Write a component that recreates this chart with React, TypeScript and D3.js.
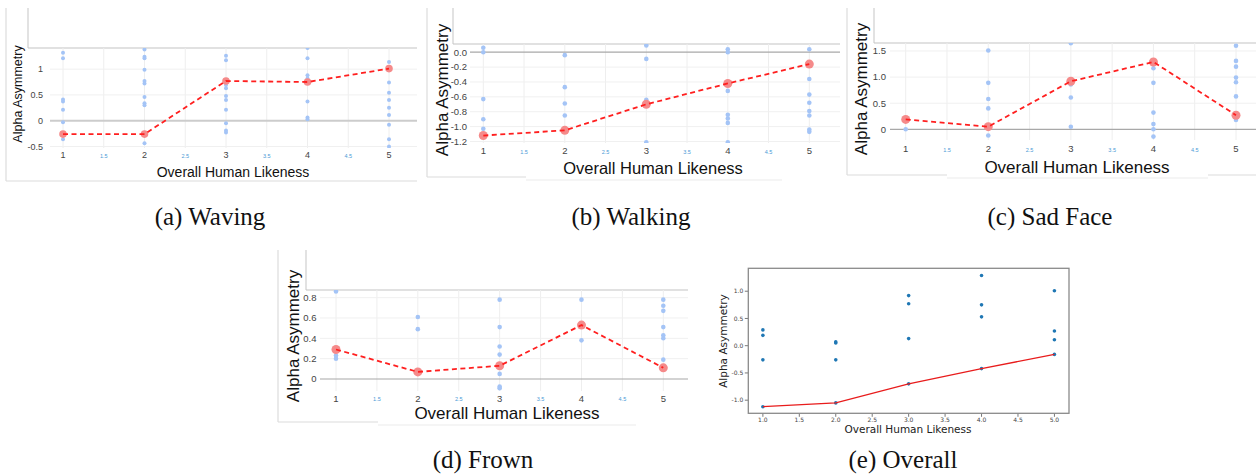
import * as d3 from 'd3';
import React from 'react';

// x categories: overall human likeness rating
const likeness = [1, 2, 3, 4, 5];
const majorLabels = ['1', '2', '3', '4', '5'];
const halfSteps = [1.5, 2.5, 3.5, 4.5];
const halfLabels = ['1.5', '2.5', '3.5', '4.5'];

// (a) waving
const wavingPoints = [
  [1.32, 1.21, 0.41, 0.37, 0.21, -0.03, -0.36],
  [1.38, 1.24, 1.21, 0.99, 0.77, 0.72, 0.46, 0.34, 0.3, -0.44],
  [1.26, 1.17, 0.77, 0.69, 0.63, 0.48, 0.4, 0.21, -0.05, -0.19, -0.23],
  [1.41, 1.21, 0.88, 0.82, 0.37, 0.06, 0.03],
  [1.14, 0.74, 0.54, 0.4, 0.25, 0.11, -0.08, -0.36, -0.5],
];
const wavingMeans = [-0.26, -0.26, 0.77, 0.75, 1.01];
const wavingTicks = [-0.5, 0, 0.5, 1];
const wavingTickLabels = ['-0.5', '0', '0.5', '1'];

// (b) walking
const walkingPoints = [
  [0.06, 0.0, -0.63, -0.9, -1.03],
  [-0.04, -0.47, -0.69, -0.85],
  [0.09, -0.09, -0.64, -1.21],
  [0.04, 0.0, -0.52, -0.84, -0.89, -0.95, -1.21],
  [0.04, -0.36, -0.57, -0.68, -0.79, -0.85, -1.04, -1.07],
];
const walkingMeans = [-1.12, -1.05, -0.7, -0.42, -0.16];
const walkingTicks = [0, -0.2, -0.4, -0.6, -0.8, -1.0, -1.2];
const walkingTickLabels = ['0.0', '-0.2', '-0.4', '-0.6', '-0.8', '-1.0', '-1.2'];

// (c) sad face
const sadPoints = [
  [0.0],
  [1.51, 0.89, 0.58, 0.4, -0.12],
  [1.65, 0.86, 0.61, 0.05],
  [1.17, 0.89, 0.32, 0.1, 0.0, -0.14],
  [1.6, 1.31, 1.2, 0.99, 0.9, 0.63, 0.18],
];
const sadMeans = [0.19, 0.05, 0.92, 1.29, 0.27];
const sadTicks = [0, 0.5, 1, 1.5];
const sadTickLabels = ['0', '0.5', '1.0', '1.5'];

// (d) frown
const frownPoints = [
  [0.86, 0.23, 0.2],
  [0.61, 0.49],
  [0.78, 0.51, 0.32, 0.24, 0.05, -0.075, -0.09],
  [0.78, 0.38],
  [0.78, 0.72, 0.67, 0.51, 0.43, 0.4, 0.19],
];
const frownMeans = [0.29, 0.07, 0.13, 0.53, 0.11];
const frownTicks = [0, 0.2, 0.4, 0.6, 0.8];
const frownTickLabels = ['0', '0.2', '0.4', '0.6', '0.8'];

// (e) overall
const overallXTicks = [1, 1.5, 2, 2.5, 3, 3.5, 4, 4.5, 5];
const overallYTicks = [-1, -0.5, 0, 0.5, 1];

const SANS = 'Liberation Sans, Arial, sans-serif';
const SERIF = 'Liberation Serif, Times New Roman, serif';

function WebPanel({ id, cfg, points, means, ticks, tickLabels }) {
  const x = d3.scaleLinear().domain([1, 5]).range(cfg.xr);
  const y = d3.scaleLinear().domain(cfg.yDomain).range([cfg.plotBottom, cfg.plotTop]);
  const line = d3.line<number>()
    .x((d, i) => x(likeness[i]))
    .y(d => y(d));
  const grid = d3.range(1, 5.01, 0.5);
  const frameCol = '#dcdcdc';

  return (
    <g>
      <defs>
        <clipPath id={id}>
          <rect x={cfg.plotLeft} y={cfg.plotTop} width={cfg.plotRight - cfg.plotLeft} height={cfg.plotBottom - cfg.plotTop} />
        </clipPath>
      </defs>
      {/* outer frame */}
      <line x1={cfg.frameLeft} x2={cfg.frameLeft} y1={cfg.frameTop} y2={cfg.frameBottom} stroke={frameCol} strokeWidth={1.2} />
      {cfg.titleBox ? (
        <g>
          <line x1={cfg.frameLeft} x2={cfg.titleBox[0]} y1={cfg.frameBottom} y2={cfg.frameBottom} stroke={frameCol} strokeWidth={1.2} />
          <line x1={cfg.titleBox[0]} x2={cfg.titleBox[1]} y1={cfg.frameBottom + 3} y2={cfg.frameBottom + 3} stroke="#ececec" strokeWidth={1.2} />
          {cfg.frameTail && (
            <line x1={cfg.titleBox[1]} x2={cfg.plotRight} y1={cfg.frameBottom} y2={cfg.frameBottom} stroke={frameCol} strokeWidth={1.2} />
          )}
        </g>
      ) : (
        <line x1={cfg.frameLeft} x2={cfg.plotRight} y1={cfg.frameBottom} y2={cfg.frameBottom} stroke={frameCol} strokeWidth={1.2} />
      )}
      {/* upper box */}
      <line x1={cfg.boxLeft} x2={cfg.boxLeft} y1={cfg.frameTop} y2={cfg.plotTop} stroke="#cfcfcf" strokeWidth={1.2} />
      <line x1={cfg.boxLeft} x2={cfg.plotRight} y1={cfg.plotTop} y2={cfg.plotTop} stroke="#c4c4c4" strokeWidth={1.2} />

      {/* grid */}
      {grid.map(g => (
        <line key={'v' + g} x1={x(g)} x2={x(g)} y1={cfg.plotTop} y2={cfg.plotBottom} stroke="#eeeeee" strokeWidth={1} />
      ))}
      {ticks.filter(t => t !== 0).map(t => (
        <line key={'h' + t} x1={cfg.plotLeft} x2={cfg.plotRight} y1={y(t)} y2={y(t)} stroke="#f0f0f0" strokeWidth={1} />
      ))}
      <line x1={cfg.plotLeft} x2={cfg.plotRight} y1={y(0)} y2={y(0)} stroke={cfg.zeroCol} strokeWidth={cfg.zeroW} />

      {/* tick labels */}
      {ticks.map((t, i) => (
        <text key={'yt' + t} x={cfg.labelX} y={y(t)} dy="0.35em" textAnchor="end" fontFamily={SANS} fontSize={cfg.tickSize} fill="#444">{tickLabels[i]}</text>
      ))}
      {likeness.map((v, i) => (
        <text key={'xt' + v} x={x(v)} y={cfg.xTickY} dy="0.35em" textAnchor="middle" fontFamily={SANS} fontSize={cfg.tickSize} fill="#444">{majorLabels[i]}</text>
      ))}
      {halfSteps.map((v, i) => (
        <text key={'xh' + v} x={x(v)} y={cfg.xTickY + 1} dy="0.35em" textAnchor="middle" fontFamily={SANS} fontSize={cfg.minorSize} fill="#4a9ad6">{halfLabels[i]}</text>
      ))}

      {/* titles */}
      <text x={cfg.xTitle[0]} y={cfg.xTitle[1]} textAnchor="middle" fontFamily={SANS} fontSize={cfg.xTitle[2]} fill="#111">Overall Human Likeness</text>
      <text transform={`translate(${cfg.yTitle[0]},${cfg.yTitle[1]}) rotate(-90)`} dy="0.35em" textAnchor="middle" fontFamily={SANS} fontSize={cfg.yTitle[2]} fill="#111">Alpha Asymmetry</text>

      {/* data */}
      <g clipPath={`url(#${id})`}>
        {points.map((col, i) => col.map((v, j) => (
          <circle key={`p${i}-${j}`} cx={x(likeness[i])} cy={y(v)} r={cfg.dotR} fill="#a4c4f6" />
        )))}
        {means.map((v, i) => (
          <circle key={'m' + i} cx={x(likeness[i])} cy={y(v)} r={cfg.meanR} fill="#f58a8a" />
        ))}
        <path d={line(means) || ''} fill="none" stroke="#ff1f1f" strokeWidth={cfg.lineW} strokeDasharray={cfg.dash} />
      </g>
    </g>
  );
}

const cfgA = {
  frameLeft: 6, frameTop: 8, frameBottom: 181, boxLeft: 28,
  plotLeft: 50, plotRight: 417, plotTop: 48, plotBottom: 148,
  xr: [63, 389], yDomain: [-0.53, 1.41],
  labelX: 43, xTickY: 155, tickSize: 9, minorSize: 5.5,
  xTitle: [233, 177, 14], yTitle: [18, 94, 12.5],
  zeroCol: '#cccccc', zeroW: 2, dotR: 2, meanR: 3.8, lineW: 1.8, dash: '5 3.5',
};
const cfgB = {
  frameLeft: 427, frameTop: 8, frameBottom: 177, boxLeft: 453,
  plotLeft: 470, plotRight: 840, plotTop: 44, plotBottom: 143,
  xr: [483.3, 809.3], yDomain: [-1.22, 0.11],
  labelX: 467, xTickY: 151, tickSize: 9.5, minorSize: 5.5,
  xTitle: [653, 174, 16.5], yTitle: [442, 90, 17],
  zeroCol: '#a8a8a8', zeroW: 1.2, dotR: 2.3, meanR: 4.5, lineW: 1.8, dash: '5 3.5',
  titleBox: [526, 782],
};
const cfgC = {
  frameLeft: 847, frameTop: 8, frameBottom: 175, boxLeft: 874,
  plotLeft: 890, plotRight: 1256, plotTop: 43, plotBottom: 140,
  xr: [905.7, 1236], yDomain: [-0.205, 1.653],
  labelX: 886, xTickY: 149, tickSize: 9.5, minorSize: 5.5,
  xTitle: [1077, 173, 17], yTitle: [861, 89, 17],
  zeroCol: '#a8a8a8', zeroW: 1.2, dotR: 2.3, meanR: 4.5, lineW: 1.8, dash: '5 3.5',
  titleBox: [947, 1208], frameTail: true,
};
const cfgD = {
  frameLeft: 278, frameTop: 250, frameBottom: 422, boxLeft: 306,
  plotLeft: 320, plotRight: 688, plotTop: 290, plotBottom: 391,
  xr: [336, 663.3], yDomain: [-0.118, 0.875],
  labelX: 316.5, xTickY: 398.5, tickSize: 9.5, minorSize: 5.5,
  xTitle: [507, 419, 17], yTitle: [293, 336, 17],
  zeroCol: '#a8a8a8', zeroW: 1.2, dotR: 2.3, meanR: 4.5, lineW: 1.8, dash: '5 3.5',
  titleBox: [378, 636],
};

function OverallPanel() {
  const left = 748.3, right = 1069, top = 268.3, bottom = 413.3;
  const x = d3.scaleLinear().domain([0.8, 5.2]).range([left, right]);
  const y = d3.scaleLinear().domain([-1.241, 1.421]).range([bottom, top]);
  const line = d3.line<number>().x((d, i) => x(likeness[i])).y(d => y(d));
  const allMeans = [wavingMeans, walkingMeans, sadMeans, frownMeans];
  const MPL = 'DejaVu Sans, sans-serif';
  return (
    <g>
      {overallXTicks.map(t => (
        <g key={'x' + t}>
          <line x1={x(t)} x2={x(t)} y1={bottom} y2={bottom + 3.5} stroke="#555" strokeWidth={0.8} />
          <text x={x(t)} y={bottom + 8.5} textAnchor="middle" fontFamily={MPL} fontSize={6} fill="#444">{t.toFixed(1)}</text>
        </g>
      ))}
      {overallYTicks.map(t => (
        <g key={'y' + t}>
          <line x1={left - 3.5} x2={left} y1={y(t)} y2={y(t)} stroke="#555" strokeWidth={0.8} />
          <text x={left - 5} y={y(t)} dy="0.35em" textAnchor="end" fontFamily={MPL} fontSize={6} fill="#444">{t.toFixed(1)}</text>
        </g>
      ))}
      {allMeans.map((series, k) => series.map((v, i) => (
        <circle key={`o${k}-${i}`} cx={x(likeness[i])} cy={y(v)} r={1.8} fill="#1f77b4" />
      )))}
      <path d={line(walkingMeans) || ''} fill="none" stroke="#e81c1c" strokeWidth={1.3} />
      <rect x={left} y={top} width={right - left} height={bottom - top} fill="none" stroke="#8a8a8a" strokeWidth={1.3} />
      <text x={908} y={433} textAnchor="middle" fontFamily={MPL} fontSize={10.5} fill="#222">Overall Human Likeness</text>
      <text transform="translate(723,341) rotate(-90)" dy="0.35em" textAnchor="middle" fontFamily={MPL} fontSize={10.5} fill="#222">Alpha Asymmetry</text>
    </g>
  );
}

const captions = [
  { text: '(a) Waving', x: 210, y: 225 },
  { text: '(b) Walking', x: 631, y: 225 },
  { text: '(c) Sad Face', x: 1050, y: 225 },
  { text: '(d) Frown', x: 483, y: 468 },
  { text: '(e) Overall', x: 903, y: 468 },
];

export default function App() {
  return (
    <svg width={1256} height={474} style={{ position: 'absolute', left: 0, top: 0, background: '#fff' }}>
      <rect width={1256} height={474} fill="#fff" />
      <WebPanel id="clipA" cfg={cfgA} points={wavingPoints} means={wavingMeans} ticks={wavingTicks} tickLabels={wavingTickLabels} />
      <WebPanel id="clipB" cfg={cfgB} points={walkingPoints} means={walkingMeans} ticks={walkingTicks} tickLabels={walkingTickLabels} />
      <WebPanel id="clipC" cfg={cfgC} points={sadPoints} means={sadMeans} ticks={sadTicks} tickLabels={sadTickLabels} />
      <WebPanel id="clipD" cfg={cfgD} points={frownPoints} means={frownMeans} ticks={frownTicks} tickLabels={frownTickLabels} />
      <OverallPanel />
      {captions.map(c => (
        <text key={c.text} x={c.x} y={c.y} textAnchor="middle" fontFamily={SERIF} fontSize={25} fill="#111">{c.text}</text>
      ))}
    </svg>
  );
}
